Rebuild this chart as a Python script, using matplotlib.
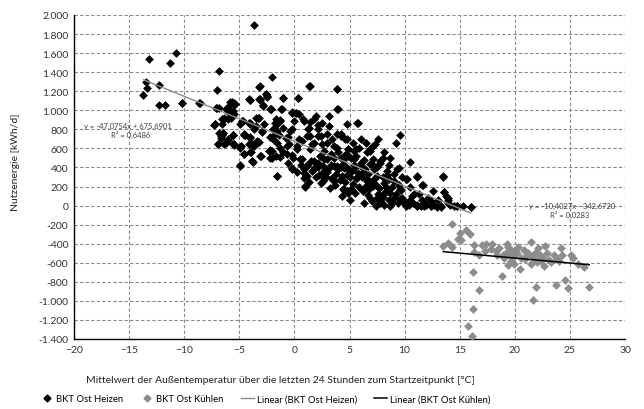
import matplotlib
matplotlib.use("Agg")
import matplotlib.pyplot as plt
from matplotlib.ticker import FuncFormatter
from matplotlib.lines import Line2D

# ---------------- data ----------------
heat_pts = [
    # far left / outliers
    (-13.2, 1540), (-13.7, 1161), (-13.5, 1298), (-13.4, 1239), (-12.3, 1263), (-12.3, 1053),
    (-11.7, 1053), (-11.3, 1495), (-10.7, 1597), (-10.2, 1077), (-8.7, 1077), (-3.7, 1898),
    (-6.8, 1411), (-7.0, 1214),
    # left cluster
    (-7.2, 852), (-6.8, 765), (-6.6, 737), (-6.9, 649), (-6.4, 642), (-5.6, 737), (-5.6, 642),
    (-6.0, 694), (-4.9, 607), (-4.6, 537), (-4.9, 414), (-4.5, 737), (-4.0, 719), (-4.0, 642),
    (-4.0, 561), (-3.7, 624), (-3.8, 459), (-3.3, 666), (-4.1, 1115), (-3.2, 1249), (-3.2, 1115),
    (-4.7, 887), (-4.9, 852), (-4.1, 870), (-3.5, 922), (-6.2, 1017), (-6.0, 982), (-5.8, 1087),
    (-5.5, 1070), (-5.4, 1063), (-5.6, 993), (-6.0, 905), (-6.4, 922), (-6.6, 852), (-7.0, 1028),
    # middle
    (-2.0, 1347), (-3.1, 1256), (1.3, 1256), (3.9, 1221), (-2.6, 1175), (-2.5, 1151), (-4.0, 1109),
    (-3.15, 1109), (-1.0, 1126), (0.3, 1133), (-5.5, 1081), (-5.8, 1052), (-6.1, 1017), (-2.85, 1052),
    (-2.1, 1010), (-1.1, 1010), (-0.2, 982), (0.1, 968), (0.4, 958), (3.9, 1010), (-5.6, 975),
    (-6.4, 905), (-7.3, 849), (-4.8, 888), (-3.3, 923), (-4.0, 863), (-1.3, 898), (0.0, 888),
    (0.8, 905), (1.4, 877), (2.0, 940), (5.7, 870), (-3.7, 800), (-2.9, 782), (-1.9, 807),
    (-1.0, 817), (-0.2, 800), (1.3, 817), (2.1, 842), (-6.5, 765), (-6.7, 712), (-5.6, 737),
    (-4.55, 737), (-4.0, 712), (-2.2, 723), (-1.4, 737), (-0.6, 723), (1.15, 730), (2.1, 730),
    (3.0, 747), (3.4, 702), (4.2, 730), (4.8, 695), (-6.9, 642), (-6.2, 652), (-5.5, 631),
    (-4.85, 624), (-4.1, 642), (-3.4, 677), (-1.6, 659), (-0.7, 624), (0.24, 596), (1.6, 642),
    (2.5, 642), (3.6, 624), (5.55, 589), (-4.6, 537), (-3.9, 561), (-3.0, 519), (-2.2, 582),
    (-2.0, 501), (-1.3, 512), (-0.2, 526), (0.55, 484), (-4.9, 421), (-3.85, 467), (1.15, 431),
    (2.1, 449), (3.0, 484), (4.2, 501), (4.9, 519), (-0.2, 396), (0.85, 379), (1.8, 379),
    (2.7, 361), (3.6, 414), (4.5, 396), (5.4, 431), (-1.6, 309), (1.1, 309), (2.2, 326),
    (3.4, 274), (4.8, 326), (1.0, 203), (4.5, 161), (4.85, 140), (3.6, 256),
    (-10.2, 1073), (-8.6, 1073), (-7.1, 1028), (-6.8, 1021), (-7.2, 852), (-6.6, 905),
    (-6.1, 1028), (-5.7, 1087), (-5.4, 1063), (-5.5, 964), (-5.75, 922), (-6.5, 764), (-6.7, 729),
    (-6.9, 649), (-6.0, 684), (-5.5, 642), (-5.6, 736), (-4.8, 887), (-4.6, 747), (-4.85, 624),
    (-4.6, 543), (-4.0, 1105), (-3.15, 1115), (-2.6, 1175), (-2.5, 1140), (-2.85, 1045),
    (-2.1, 1010), (-4.0, 859), (-3.5, 835), (-3.2, 922), (-2.8, 852), (-3.85, 649), (-3.2, 670),
    (-2.9, 775), (-3.1, 519), (-3.85, 466), (-2.3, 571), (-2.2, 501), (-1.7, 905), (-1.6, 852),
    (-1.9, 729),
    (1.4, 1256), (3.9, 1221), (-1.0, 1133), (0.3, 1133), (-2.2, 1010), (-1.2, 1010), (-0.2, 975),
    (0.1, 968), (4.0, 1010), (3.1, 940), (-1.8, 870), (-1.3, 887), (0.9, 887), (1.8, 905),
    (2.5, 870), (4.8, 852), (-1.6, 782), (-0.4, 782), (1.2, 800), (2.1, 807), (3.1, 835),
    (1.45, 729), (2.4, 729), (3.9, 747), (-1.9, 694), (-0.8, 712), (0.7, 677), (1.8, 659),
    (3.0, 659), (4.6, 694), (-1.3, 607), (0.2, 624), (1.45, 589), (2.7, 572), (3.9, 607),
    (4.9, 589), (-2.0, 572), (-0.7, 537), (-1.7, 519), (-0.1, 501), (0.7, 484), (1.8, 466),
    (2.7, 484), (3.6, 501), (4.5, 484), (1.15, 414), (2.1, 407), (3.1, 396), (4.2, 407),
    (4.9, 379), (-0.2, 386), (0.85, 344), (2.4, 326), (3.4, 291), (4.3, 309), (-1.6, 309),
    (0.85, 291), (1.0, 196), (4.5, 168), (4.85, 133),
    # dense core
    (1.6, 360), (2.0, 300), (2.6, 420), (3.0, 350), (3.3, 430), (3.8, 330), (4.0, 380),
    (4.4, 440), (4.6, 250), (5.0, 300), (5.2, 360), (5.5, 410), (5.8, 340), (6.1, 300),
    (6.4, 380), (2.9, 300), (3.7, 220), (4.1, 270), (5.3, 230), (5.9, 200), (6.2, 150),
    (6.5, 210), (6.9, 250), (7.3, 230), (7.6, 120), (8.0, 90), (8.3, 200), (8.6, 60),
    (9.2, 120), (9.4, 30), (10.0, 40), (10.4, 10), (10.8, 30), (11.9, 10), (12.7, 10),
    (12.9, -10), (6.7, 110), (7.0, 50), (7.4, 0), (8.1, 10), (5.5, 130), (5.1, 170),
    (3.2, 180), (2.4, 240), (1.9, 410), (1.5, 470), (2.3, 520), (3.3, 540), (4.0, 560),
    (4.7, 540), (5.6, 520), (6.3, 480), (6.9, 440), (6.7, 330), (7.5, 400), (8.0, 300),
    (8.9, 200), (9.7, 160), (5.0, 60), (4.3, 100), (3.9, 420), (2.6, 260), (1.3, 250),
    (0.6, 430), (0.2, 350), (-0.6, 450), (-1.0, 560), (0.4, 700), (-0.5, 650), (5.3, 660),
    (6.0, 700), (6.6, 560), (7.0, 620), (8.0, 500), (8.6, 430), (9.0, 330), (9.8, 300),
    (10.5, 200), (11.3, 120), (12.1, 80), (12.6, 150), (13.0, 60), (14.1, 10), (15.3, 0),
    # right
    (5.8, 863), (4.2, 748), (9.6, 741), (9.2, 653), (7.6, 702), (7.3, 642), (6.5, 660),
    (6.85, 590), (8.1, 562), (10.5, 460), (9.5, 397), (10.1, 274), (11.15, 302), (13.5, 302),
    (11.6, 221), (9.6, 176), (13.6, 140), (13.9, 81), (14.8, -7), (16.0, -14), (13.3, -14),
    (12.4, 0), (11.45, 0), (11.1, -7), (10.1, -7), (9.8, 46), (8.7, 0), (7.8, 28), (8.1, 133),
    (7.5, 81), (7.1, 204), (6.6, 256), (5.7, 291), (4.8, 151), (4.4, 169), (4.2, 274),
    (5.1, 502), (5.4, 572), (6.0, 449), (6.3, 362), (7.2, 414), (7.8, 467), (8.4, 326),
    (9.0, 256), (8.1, 239), (7.2, 274), (7.7, 186), (8.4, 151), (9.0, 81), (9.8, 81),
    (10.5, 63), (11.8, 28), (12.4, 46), (13.9, 28), (14.5, -7),
    (4.9, 590), (5.85, 607), (6.9, 572), (4.5, 520), (5.4, 485), (7.1, 485), (7.8, 450),
    (8.7, 502), (4.8, 397), (6.0, 414), (7.2, 379), (8.4, 362), (9.3, 379), (5.6, 292),
    (6.6, 274), (7.5, 309), (8.6, 274), (9.5, 221), (10.2, 281), (4.5, 169), (6.8, 169),
    (7.7, 186), (8.7, 134), (6.9, 81), (7.8, 46), (8.9, 28), (9.6, 64), (10.1, 11), (10.7, 99),
    (11.15, 11), (6.3, 28),
    (11.15, 309), (13.5, 309), (11.7, 221), (10.85, 123), (13.6, 140), (13.8, 98), (13.9, 63),
    (11.6, 63), (11.15, 0), (11.8, 0), (12.4, 0), (13.3, 0), (14.8, 0), (16.0, -14),
]
heat_x = [p[0] for p in heat_pts]
heat_y = [p[1] for p in heat_pts]

cool_pts = [
    (14.27, -190), (15.03, -288), (14.87, -351), (15.09, -365), (13.51, -422), (13.97, -393),
    (14.27, -436), (16.3, -411), (17.0, -411), (17.42, -400), (17.9, -400), (17.8, -457),
    (18.27, -481), (18.57, -446), (16.3, -492), (16.75, -516), (19.33, -400), (19.39, -436),
    (19.7, -464), (19.18, -499), (19.94, -516), (20.3, -436), (19.03, -551), (19.63, -586),
    (19.39, -622), (20.48, -664), (20.54, -551), (21.45, -386), (21.2, -499), (21.6, -534),
    (21.9, -569), (22.1, -446), (22.3, -516), (22.7, -422), (22.57, -551), (23.1, -569),
    (22.66, -639), (23.57, -516), (24.18, -446), (24.27, -516), (24.03, -586), (25.09, -516),
    (25.24, -551), (25.7, -611), (26.24, -646), (21.45, -611), (16.24, -702), (18.87, -744),
    (16.75, -885), (21.9, -857), (23.78, -832), (24.54, -786), (24.84, -860), (26.75, -850),
    (21.66, -990), (16.24, -1088), (15.78, -1264), (16.09, -1365),
    (18.9, -520), (20.0, -470), (20.9, -560), (22.0, -590), (22.9, -500), (19.6, -520),
    (20.2, -500), (21.0, -530), (23.3, -590), (18.4, -520), (17.3, -480), (15.6, -260),
    (15.9, -300), (20.8, -470), (21.8, -500), (22.4, -580), (23.8, -560), (19.9, -610),
]
cool_x = [p[0] for p in cool_pts]
cool_y = [p[1] for p in cool_pts]

heat_slope, heat_icpt = -47.0754, 675.6901
cool_slope, cool_icpt = -10.4027, -342.6720

x_ticks = list(range(-20, 31, 5))
y_ticks = list(range(-1400, 2001, 200))

labels = ["BKT Ost Heizen", "BKT Ost Kühlen",
          "Linear (BKT Ost Heizen)", "Linear (BKT Ost Kühlen)"]

# ---------------- figure ----------------
plt.rcParams['font.family'] = ['Lato', 'DejaVu Sans']
fig = plt.figure(figsize=(6.44, 4.10), dpi=100)
ax = fig.add_axes([74/644, 1-340/410, (625-74)/644, (340-16)/410])

HEAT_C = "#000000"
COOL_C = "#8c8c8c"
TREND_H = "#8c8c8c"

ax.scatter(heat_x, heat_y, marker="D", s=20, color=HEAT_C, linewidths=0, zorder=3)
ax.scatter(cool_x, cool_y, marker="D", s=20, color=COOL_C, linewidths=0, zorder=3)

hx = [min(heat_x), max(heat_x)]
ax.plot(hx, [heat_slope*v + heat_icpt for v in hx], color=TREND_H, lw=1.0, zorder=4)
cx = [min(cool_x), max(cool_x)]
ax.plot(cx, [cool_slope*v + cool_icpt for v in cx], color="black", lw=1.1, zorder=4)

ax.set_xlim(-20, 30)
ax.set_ylim(-1400, 2000)
ax.set_xticks(x_ticks)
ax.set_yticks(y_ticks)
ax.yaxis.set_major_formatter(FuncFormatter(lambda v, p: f"{v:,.0f}".replace(",", ".")))
ax.tick_params(axis="both", labelsize=7.5, length=0, pad=4, colors="#333333")
ax.grid(True, linestyle=(0, (3, 2)), color="#8a8a8a", lw=0.8)
ax.set_axisbelow(True)
for s in ["top", "right"]:
    ax.spines[s].set_visible(False)
ax.spines["left"].set_linewidth(1.0)
ax.spines["bottom"].set_linewidth(1.0)

# equations
ax.text(-19.1, 842, "y = -47,0754x + 675,6901", fontsize=5.5, color="#404040", ha="left", va="center")
ax.text(-16.6, 747, "R² = 0,6486", fontsize=5.5, color="#404040", ha="left", va="center")
ax.text(25.2, 5, "y = -10,4027x - 342,6720", fontsize=5.5, color="#404040", ha="center", va="center")
ax.text(25.0, -90, "R² = 0,0283", fontsize=5.5, color="#404040", ha="center", va="center")

fig.text(280/644, 1-381/410, "Mittelwert der Außentemperatur über die letzten 24 Stunden zum Startzeitpunkt [°C]",
         fontsize=7.5, ha="center", va="center", color="#222222")
fig.text(16/644, 1-162/410, "Nutzenergie [kWh/d]", rotation=90, fontsize=7.5,
         ha="center", va="center", color="#222222")

handles = [
    Line2D([], [], marker="D", ls="none", color=HEAT_C, markersize=3.5),
    Line2D([], [], marker="D", ls="none", color=COOL_C, markersize=3.5),
    Line2D([], [], color=TREND_H, lw=1.0),
    Line2D([], [], color="black", lw=1.1),
]
fig.legend(handles, labels, loc="center", bbox_to_anchor=(265/644, 1-400/410), ncol=4,
           frameon=False, fontsize=6.8, handlelength=1.4, handletextpad=0.3, columnspacing=1.8)

fig.savefig("out.png", dpi=100)
